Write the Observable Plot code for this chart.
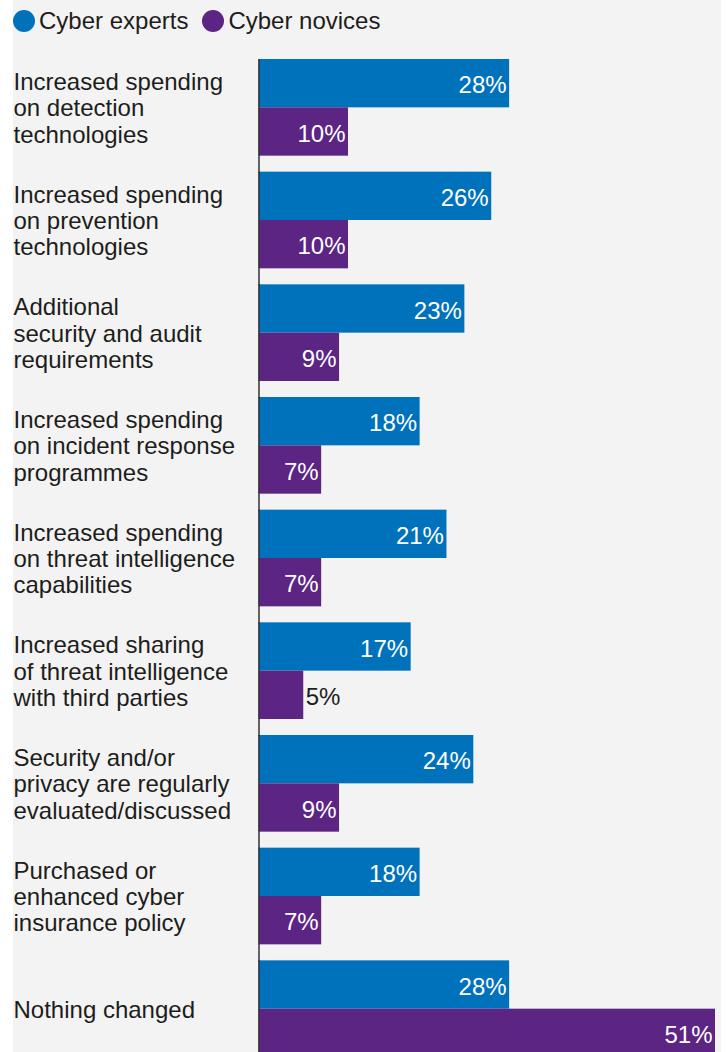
<!DOCTYPE html>
<html>
<head>
<meta charset="utf-8">
<script src="https://cdn.jsdelivr.net/npm/d3@7"></script>
<script src="https://cdn.jsdelivr.net/npm/@observablehq/plot@0.6"></script>
<style>
  html, body { margin: 0; padding: 0; background: #ffffff; overflow: hidden; }
  #wrap { position: relative; width: 726px; height: 1052px; overflow: hidden; font-family: "Liberation Sans", Arial, sans-serif; }
  #panel { position: absolute; left: 13px; top: 0; width: 708px; height: 1052px; background: #f3f3f3; }
  #legend { position: absolute; left: 13px; top: 8px; display: flex; align-items: center; font-size: 24px; line-height: 26px; color: #1d1d1b; }
  #legend .item { display: flex; align-items: center; margin-right: 14px; }
  #legend .dot { width: 22px; height: 22px; border-radius: 50%; margin-right: 4px; }
  #chart { position: absolute; left: 0; top: 0; }
</style>
</head>
<body>
<div id="wrap">
  <div id="panel"></div>
  <div id="legend"></div>
  <div id="chart"></div>
</div>
<script>
const categories = [
  "Increased spending\non detection\ntechnologies",
  "Increased spending\non prevention\ntechnologies",
  "Additional\nsecurity and audit\nrequirements",
  "Increased spending\non incident response\nprogrammes",
  "Increased spending\non threat intelligence\ncapabilities",
  "Increased sharing\nof threat intelligence\nwith third parties",
  "Security and/or\nprivacy are regularly\nevaluated/discussed",
  "Purchased or\nenhanced cyber\ninsurance policy",
  "Nothing changed"
];
const series = ["Cyber experts", "Cyber novices"];
const expertsValues = [28, 26, 23, 18, 21, 17, 24, 18, 28];
const novicesValues = [10, 10, 9, 7, 7, 5, 9, 7, 51];
const colors = ["#0072bc", "#5c2483"];

const data = [];
categories.forEach((c, i) => {
  data.push({category: c, series: series[0], value: expertsValues[i]});
  data.push({category: c, series: series[1], value: novicesValues[i]});
});

// legend
const legend = document.getElementById("legend");
series.forEach((s, i) => {
  const item = document.createElement("div");
  item.className = "item";
  const dot = document.createElement("span");
  dot.className = "dot";
  dot.style.background = colors[i];
  const label = document.createElement("span");
  label.textContent = s;
  item.appendChild(dot);
  item.appendChild(label);
  legend.appendChild(item);
});

const textColor = "#1d1d1b";
const plot = Plot.plot({
  width: 726,
  height: 1057,
  marginLeft: 258.5,
  marginRight: 11,
  marginTop: 59,
  marginBottom: 0,
  style: {background: "transparent", fontFamily: "'Liberation Sans', Arial, sans-serif", fontSize: "24px", overflow: "visible"},
  x: {domain: [0, 51], axis: null},
  y: {domain: series, axis: null, padding: 0, round: false},
  fy: {domain: categories, axis: null, paddingInner: 0.142, paddingOuter: 0, round: false},
  color: {domain: series, range: colors},
  marks: [
    Plot.barX(data, {fy: "category", y: "series", x: "value", fill: "series"}),
    Plot.ruleX([0], {stroke: "#333", strokeWidth: 1.5, insetBottom: -17}),
    Plot.text(data.filter(d => d.value >= 6), {
      fy: "category", y: "series", x: "value",
      text: d => d.value + "%", textAnchor: "end", dx: -3, dy: 2,
      fill: "white", fontSize: 24
    }),
    Plot.text(data.filter(d => d.value < 6), {
      fy: "category", y: "series", x: "value",
      text: d => d.value + "%", textAnchor: "start", dx: 2, dy: 2,
      fill: textColor, fontSize: 24
    }),
    Plot.text(categories, {
      fy: d => d, text: d => d, frameAnchor: "left", textAnchor: "start",
      dx: -245.5, lineHeight: 1.1, fill: textColor, fontSize: 24
    })
  ]
});
document.getElementById("chart").appendChild(plot);
</script>
</body>
</html>
